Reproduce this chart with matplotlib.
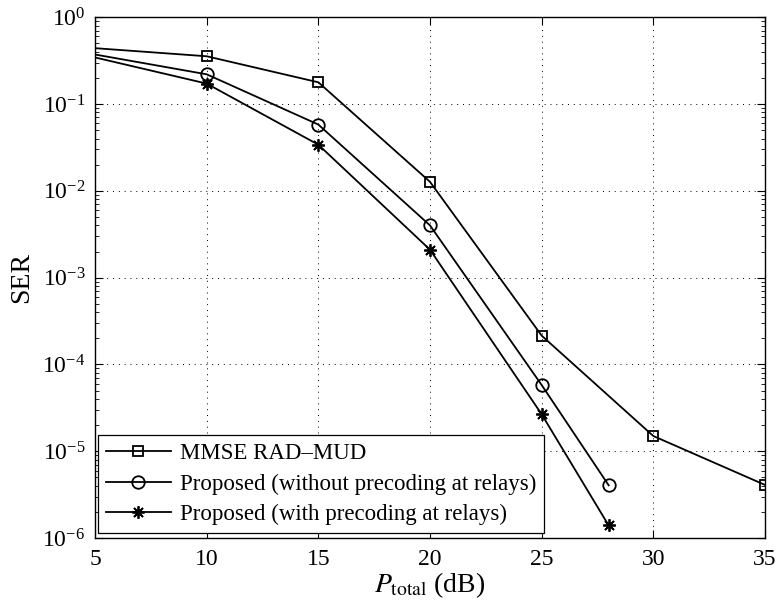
import numpy as np
import matplotlib
matplotlib.use("Agg")
import matplotlib.pyplot as plt

plt.rcParams['font.family'] = ['Liberation Serif', 'DejaVu Serif']
plt.rcParams['mathtext.fontset'] = 'stix'

# SER vs total power (first point at 5 dB has no marker)
x_mmse = [5, 10, 15, 20, 25, 30, 35]
ser_mmse = [0.44, 0.355, 0.178, 0.0127, 2.15e-4, 1.5e-5, 4.1e-6]

x_prop = [5, 10, 15, 20, 25, 28]
ser_noprec = [0.372, 0.22, 0.058, 4.0e-3, 5.8e-5, 4.06e-6]
ser_prec = [0.344, 0.172, 0.034, 2.1e-3, 2.67e-5, 1.4e-6]

labels = ["MMSE RAD\u2013MUD",
          "Proposed (without precoding at relays)",
          "Proposed (with precoding at relays)"]

fig = plt.figure(figsize=(7.79, 6.15), dpi=100)
ax = fig.add_subplot(111)
fig.subplots_adjust(left=0.122, right=0.982, top=0.972, bottom=0.125)

lw = 1.3
ax.semilogy(x_mmse, ser_mmse, color='k', lw=lw, marker='s', ms=7.5,
            mfc='none', mew=1.3, markevery=slice(1, None), label=labels[0])
ax.semilogy(x_prop, ser_noprec, color='k', lw=lw, marker='o', ms=9,
            mfc='none', mew=1.3, markevery=slice(1, None), label=labels[1])
ax.semilogy(x_prop, ser_prec, color='k', lw=lw, marker=(8, 2, 0), ms=9,
            mew=1.3, markevery=slice(1, None), label=labels[2])

ax.set_xlim(5, 35)
ax.set_ylim(1e-6, 1)
ax.set_xticks([5, 10, 15, 20, 25, 30, 35])
ax.set_yticks([1e-6, 1e-5, 1e-4, 1e-3, 1e-2, 1e-1, 1e0])

ax.grid(True, which='major', color='k', linestyle=(0, (1, 5)), lw=0.7)
ax.tick_params(which='both', direction='in', top=True, right=True, labelsize=17)
ax.tick_params(which='major', length=6)
ax.tick_params(which='minor', length=3)
ax.tick_params(axis='x', which='major', pad=8)
ax.tick_params(axis='y', which='major', pad=7)
ax.tick_params(axis='x', which='minor', bottom=False, top=False)
for s in ax.spines.values():
    s.set_linewidth(1.0)

ax.set_xlabel(r"$P_{\mathrm{total}}$ (dB)", fontsize=20, labelpad=0)
ax.set_ylabel("SER", fontsize=20, labelpad=6)

leg = ax.legend(loc='lower left', bbox_to_anchor=(0.005, 0.01), borderaxespad=0,
                fontsize=16.5, handlelength=2.8, labelspacing=0.4, fancybox=False,
                edgecolor='k', framealpha=1, borderpad=0.35, handletextpad=0.4)
leg.get_frame().set_linewidth(0.9)

plt.savefig("out.png", dpi=100)
